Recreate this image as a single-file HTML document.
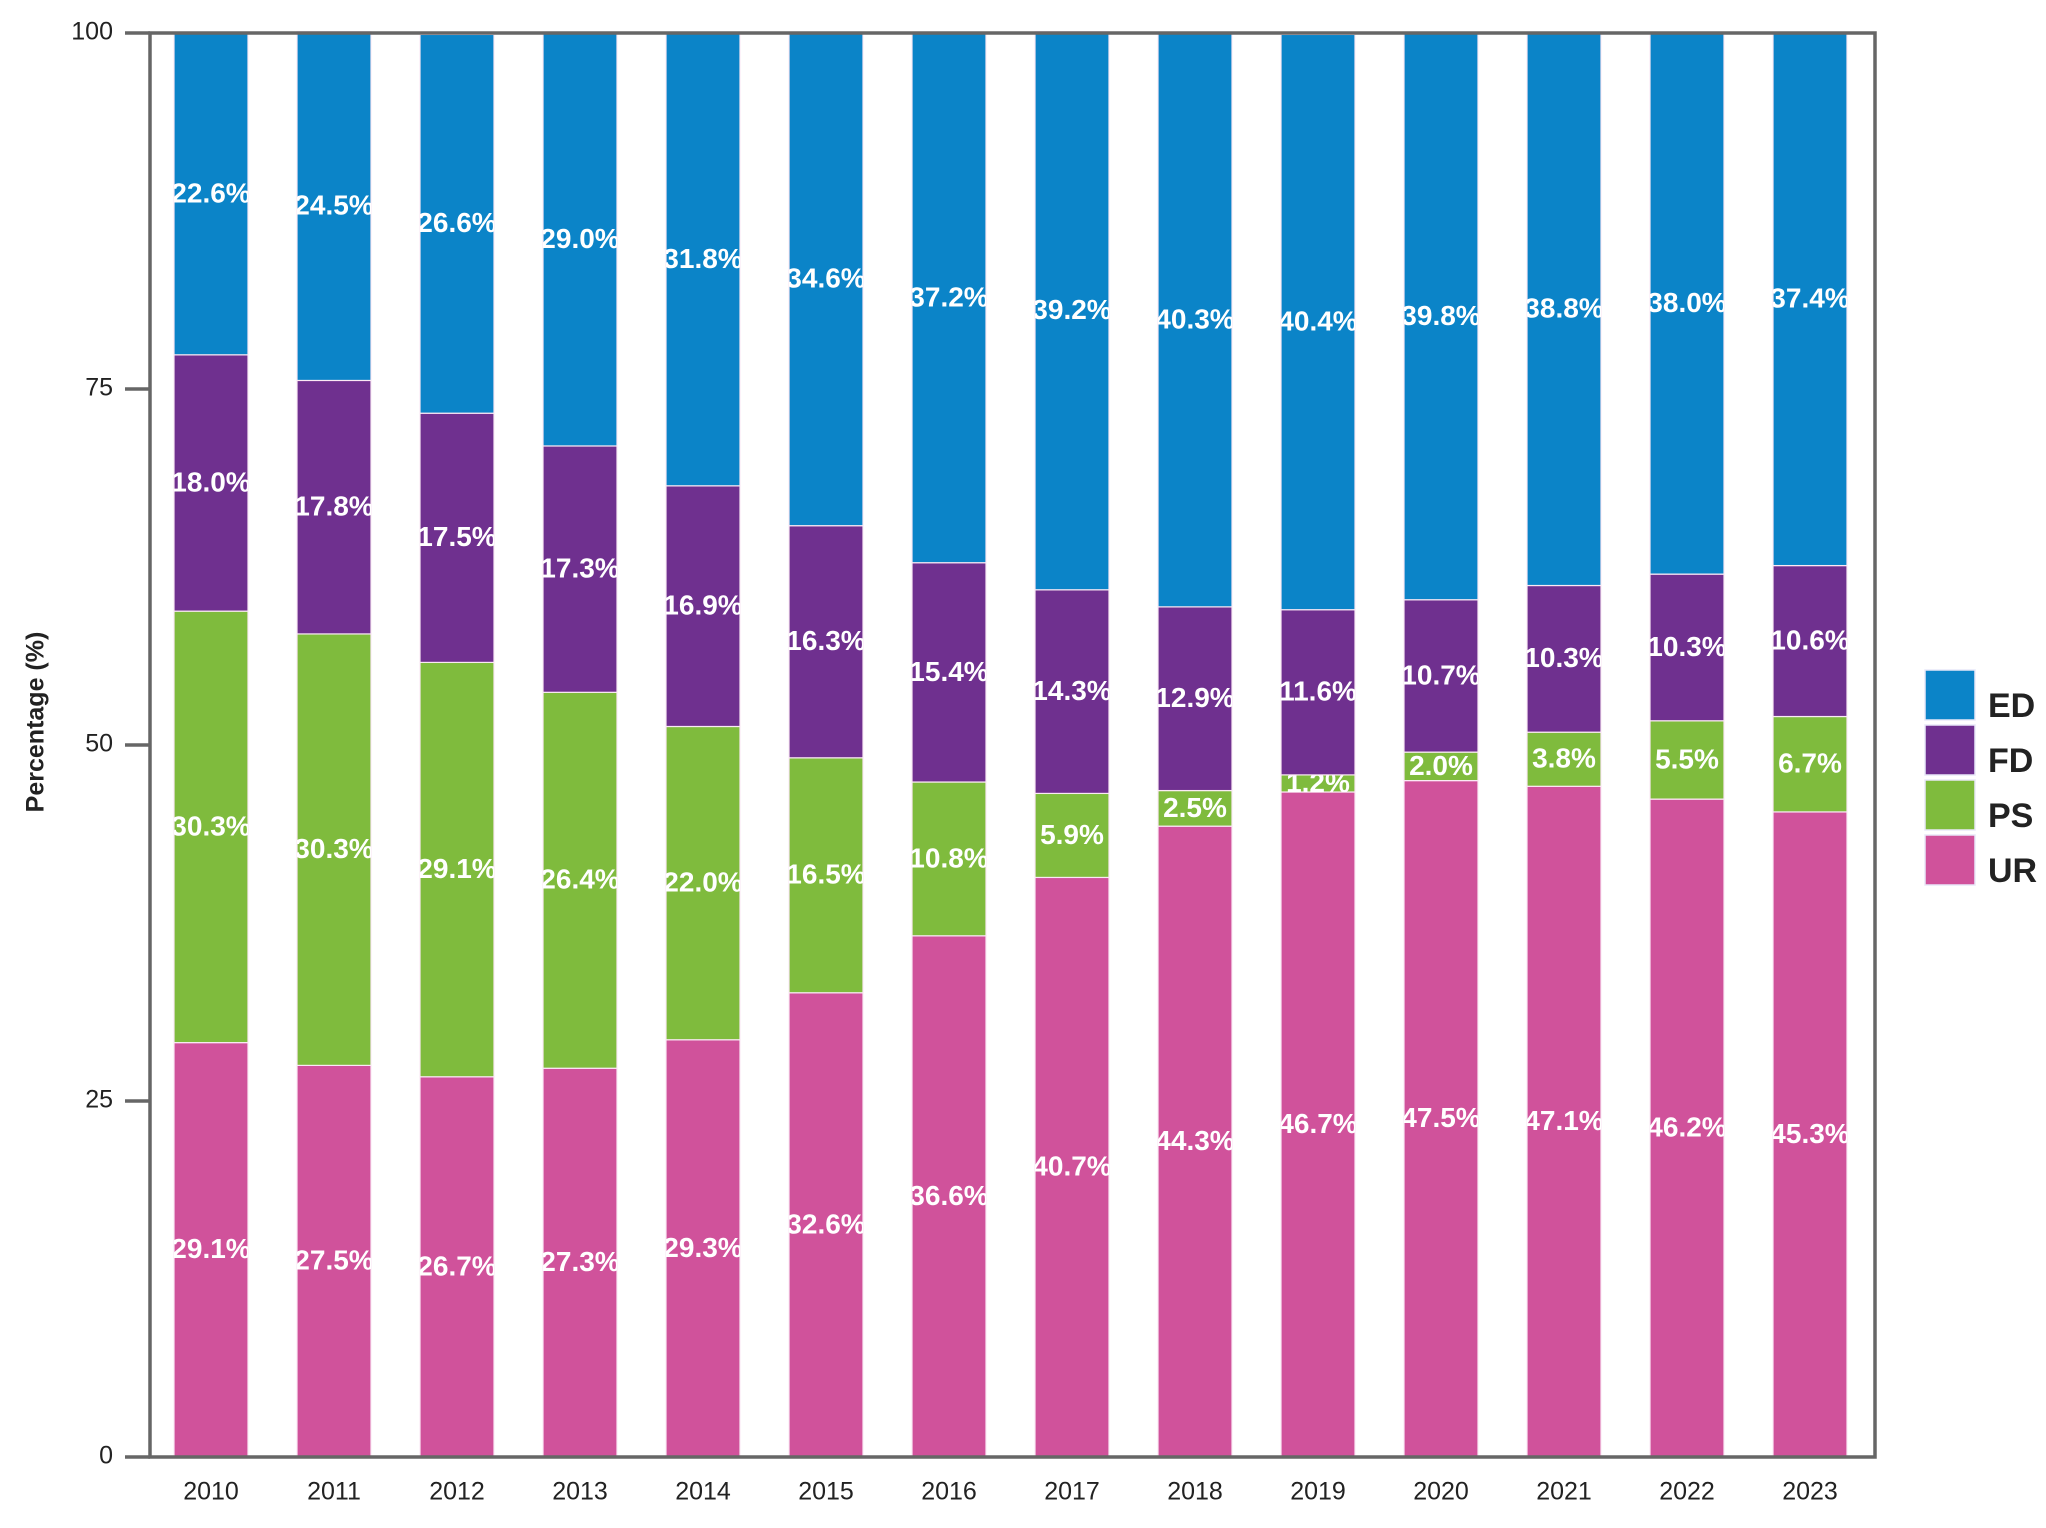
<!DOCTYPE html>
<html><head><meta charset="utf-8"><style>
html,body{margin:0;padding:0;background:#fff;}
svg{display:block;font-family:"Liberation Sans",sans-serif;}
</style></head><body>
<svg id="chart" width="2046" height="1528" viewBox="0 0 2046 1528" xmlns="http://www.w3.org/2000/svg">
<defs id="defs"></defs>
<g id="bars"></g>
<g id="axes"></g>
<text x="37" y="722" transform="rotate(-90 37 722)" text-anchor="middle" dominant-baseline="middle" font-size="25" font-weight="bold" fill="#222">Percentage (%)</text>
<g id="legend"></g>
</svg>
<script>
const years = ["2010","2011","2012","2013","2014","2015","2016","2017","2018","2019","2020","2021","2022","2023"];
const seriesNames = ["UR","PS","FD","ED"];
const urValues = [29.1,27.5,26.7,27.3,29.3,32.6,36.6,40.7,44.3,46.7,47.5,47.1,46.2,45.3];
const psValues = [30.3,30.3,29.1,26.4,22.0,16.5,10.8,5.9,2.5,1.2,2.0,3.8,5.5,6.7];
const fdValues = [18.0,17.8,17.5,17.3,16.9,16.3,15.4,14.3,12.9,11.6,10.7,10.3,10.3,10.6];
const edValues = [22.6,24.5,26.6,29.0,31.8,34.6,37.2,39.2,40.3,40.4,39.8,38.8,38.0,37.4];
const yTicks = [0,25,50,75,100];
const colors = {UR:"#d0529b",PS:"#7fbb3d",FD:"#6f308f",ED:"#0b84c8"};
const NS="http://www.w3.org/2000/svg";
const X0=150,X1=1875,Y0=1457,Y1=33,BW=74;
const y = v => Y0 - (v/100)*(Y0-Y1);
const xc = i => 211 + i*123;
function mk(tag, attrs, parent){const e=document.createElementNS(NS,tag);for(const k in attrs)e.setAttribute(k,attrs[k]);parent.appendChild(e);return e;}
const bars=document.getElementById('bars'), axes=document.getElementById('axes'), defs=document.getElementById('defs'), legend=document.getElementById('legend');
const all = {UR:urValues,PS:psValues,FD:fdValues,ED:edValues};
years.forEach((yr,i)=>{
  let cum=0;
  seriesNames.forEach(s=>{
    const v=all[s][i];
    const top=y(cum+v), bot=y(cum);
    const r=mk('rect',{x:xc(i)-BW/2,y:top,width:BW,height:bot-top,fill:colors[s],stroke:"#fbe9f5","stroke-width":1.2},bars);
    
    
    const cid='c'+s+i;
    const cp=mk('clipPath',{id:cid},defs);
    mk('rect',{x:xc(i)-BW/2,y:top,width:BW,height:bot-top},cp);
    const t=mk('text',{x:xc(i),y:(top+bot)/2+1,"text-anchor":"middle","dominant-baseline":"middle","font-size":28,"font-weight":"bold",fill:"#fff","clip-path":"url(#"+cid+")"},bars);
    t.textContent=v.toFixed(1)+"%";
    
    
    cum+=v;
  });
  const lt=mk('text',{x:xc(i),y:1493,"text-anchor":"middle","dominant-baseline":"middle","font-size":25,fill:"#222"},axes);
  lt.textContent=yr;
  
  
});
const frame=mk('rect',{x:X0,y:Y1,width:X1-X0,height:Y0-Y1,fill:"none",stroke:"#666","stroke-width":3.5},axes);


yTicks.forEach(t=>{
  const l=mk('line',{x1:125,x2:X0,y1:y(t),y2:y(t),stroke:"#666","stroke-width":3.5},axes);
  
  
  const tx=mk('text',{x:113,y:y(t),"text-anchor":"end","dominant-baseline":"middle","font-size":25,fill:"#222"},axes);
  tx.textContent=t;
  
  
});
["ED","FD","PS","UR"].forEach((s,k)=>{
  const ly=670+k*55;
  const r=mk('rect',{x:1925,y:ly,width:50,height:50,fill:colors[s],stroke:"#e8e8f8","stroke-width":1.5},legend);
  
  
  const t=mk('text',{x:1988,y:ly+47,"font-size":34,"font-weight":"bold",fill:"#222"},legend);
  t.textContent=s;
  
  
});
</script>
</body></html>
